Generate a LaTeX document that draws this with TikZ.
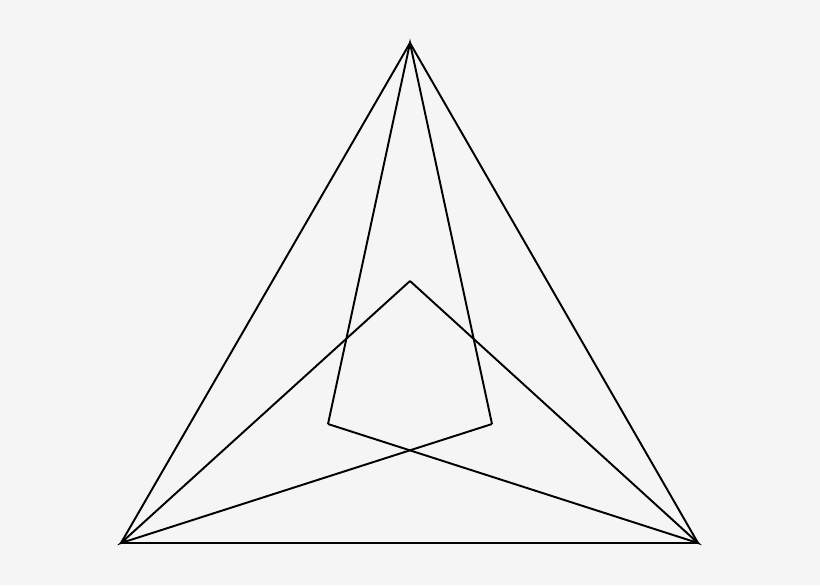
\documentclass[tikz,border=0pt]{standalone}
\definecolor{bg}{HTML}{F5F5F5}
\begin{document}
\begin{tikzpicture}[x=0.02cm,y=-0.02cm,edge/.style={draw=black,line width=1.1pt,line join=miter}]
\fill[bg] (0,0) rectangle (820,585);
\useasboundingbox (0,0) rectangle (820,585);
\coordinate (A) at (410,43);
\coordinate (B) at (121,543);
\coordinate (C) at (698,543);
\coordinate (P) at (410,281);
\coordinate (Q) at (328,424);
\coordinate (R) at (492,424);
\draw[edge] (A) -- (B) -- (C) -- cycle;
\draw[edge] (Q) -- (A) -- (R);
\draw[edge] (P) -- (B) -- (R);
\draw[edge] (P) -- (C) -- (Q);
\end{tikzpicture}
\end{document}
